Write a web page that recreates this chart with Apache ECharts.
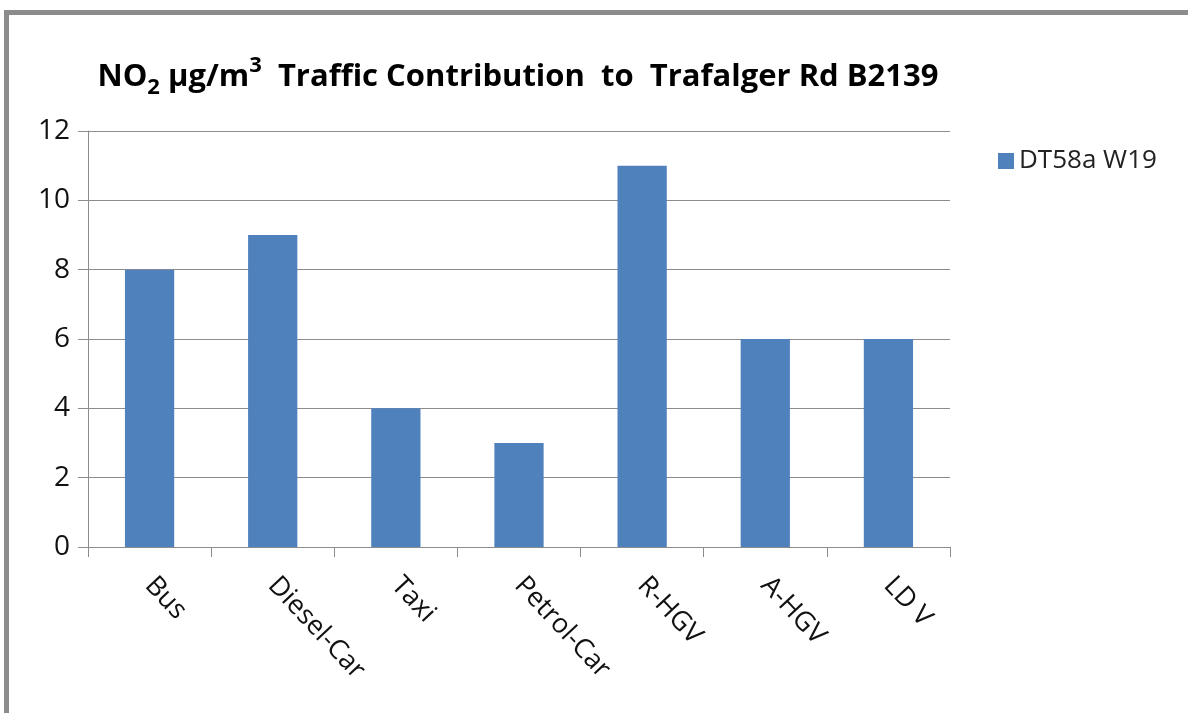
<!DOCTYPE html>
<html>
<head>
<meta charset="utf-8">
<script src="https://cdn.jsdelivr.net/npm/echarts@6/dist/echarts.min.js"></script>
<style>
	html, body { margin: 0; padding: 0; background: #fff; }
	#chart { width: 1188px; height: 713px; }
</style>
</head>
<body>
<div id="chart"></div>
<script>
const categories = ["Bus", "Diesel-Car", "Taxi", "Petrol-Car", "R-HGV", "A-HGV", "LD V"];
const values = [8, 9, 4, 3, 11, 6, 6];
const seriesName = "DT58a W19";
const yTicks = { min: 0, max: 12, interval: 2 };

const font = "'Open Sans', 'Liberation Sans', sans-serif";

const myChart = echarts.init(document.getElementById("chart"));

myChart.setOption({
	animation: false,
	backgroundColor: "#fff",
	// frame of the original screenshot (top and left edges)
	graphic: [
		{ type: "rect", shape: { x: 4, y: 10, width: 1184, height: 5 }, style: { fill: "#8c8c8c" } },
		{ type: "rect", shape: { x: 4, y: 10, width: 5, height: 703 }, style: { fill: "#8c8c8c" } },
	],
	title: {
		text: "{t|NO}{sub|2}{t| µg/m}{sup|3}{t|  Traffic Contribution  to  Trafalger Rd B2139}",
		left: 513,
		top: 50,
		textAlign: "center",
		textStyle: {
			rich: {
				t: { fontFamily: font, fontSize: 31, fontWeight: "bold", color: "#000", lineHeight: 44, verticalAlign: "middle" },
				sub: { fontFamily: font, fontSize: 22, fontWeight: "bold", color: "#000", lineHeight: 22, verticalAlign: "bottom" },
				sup: { fontFamily: font, fontSize: 22, fontWeight: "bold", color: "#000", lineHeight: 34, verticalAlign: "top" },
			},
		},
	},
	legend: {
		left: 993,
		top: 143,
		itemWidth: 16,
		itemHeight: 16,
		icon: "rect",
		itemGap: 6,
		textStyle: { fontFamily: font, fontSize: 26, color: "#222" },
		data: [seriesName],
	},
	grid: { left: 88, right: 238, top: 131, bottom: 166, containLabel: false },
	xAxis: {
		type: "category",
		data: categories,
		axisLine: { lineStyle: { color: "#8c8c8c", width: 1 } },
		axisTick: { show: true, length: 10, alignWithLabel: false, lineStyle: { color: "#8c8c8c" } },
		axisLabel: {
			rotate: -47,
			margin: 34,
			fontFamily: font,
			fontSize: 27,
			color: "#111",
			interval: 0,
		},
	},
	yAxis: {
		type: "value",
		min: yTicks.min,
		max: yTicks.max,
		interval: yTicks.interval,
		axisLine: { show: true, lineStyle: { color: "#8c8c8c", width: 1 } },
		axisTick: { show: true, length: 10, lineStyle: { color: "#8c8c8c" } },
		axisLabel: { margin: 18, fontFamily: font, fontSize: 28, color: "#111" },
		splitLine: { lineStyle: { color: "#8c8c8c", width: 1 } },
	},
	series: [
		{
			name: seriesName,
			type: "bar",
			data: values,
			barWidth: "40%",
			itemStyle: { color: "#4f81bd" },
		},
	],
});
</script>
</body>
</html>
